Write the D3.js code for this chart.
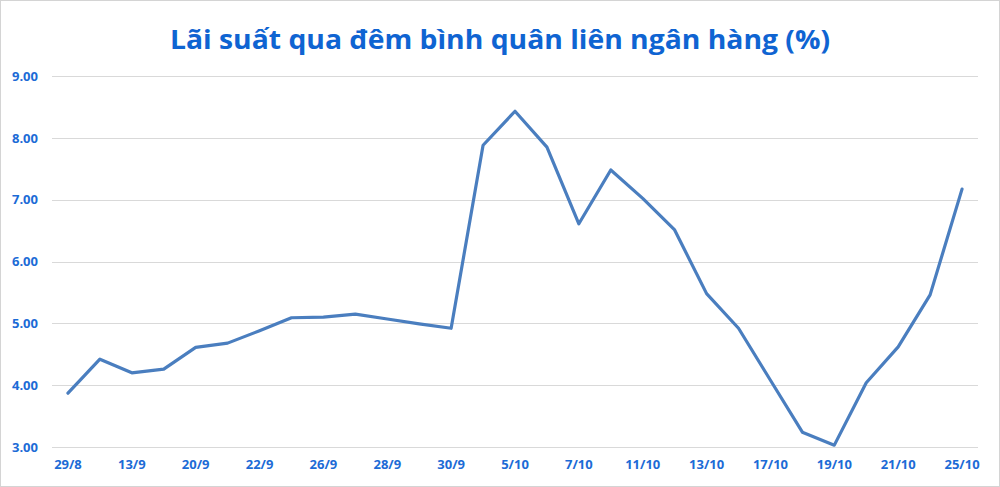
<!DOCTYPE html>
<html>
<head>
<meta charset="utf-8">
<script src="https://cdn.jsdelivr.net/npm/d3@7"></script>
<style>
  body { margin: 0; background: #fff; }
  svg { display: block; }
</style>
</head>
<body>
<script>
// dates (every other one is shown on the axis)
var dates = ["29/8", "12/9", "13/9", "16/9", "20/9", "21/9", "22/9", "23/9", "26/9", "27/9",
             "28/9", "29/9", "30/9", "4/10", "5/10", "6/10", "7/10", "10/10", "11/10", "12/10",
             "13/10", "14/10", "17/10", "18/10", "19/10", "20/10", "21/10", "24/10", "25/10"];
var rates = [3.87, 4.42, 4.20, 4.26, 4.61, 4.68, 4.88, 5.09, 5.10, 5.15,
             5.07, 4.99, 4.92, 7.88, 8.43, 7.85, 6.61, 7.48, 7.02, 6.51,
             5.48, 4.92, 4.08, 3.24, 3.03, 4.04, 4.62, 5.46, 7.17];
var xTickLabels = ["29/8", "13/9", "20/9", "22/9", "26/9", "28/9", "30/9", "5/10",
                   "7/10", "11/10", "13/10", "17/10", "19/10", "21/10", "25/10"];
var yTicks = [3, 4, 5, 6, 7, 8, 9];

var W = 1000, H = 487;
var blue = "#1c6bd6";

var svg = d3.select("body").append("svg")
    .attr("width", W)
    .attr("height", H);

// frame
svg.append("rect")
    .attr("x", 0.5).attr("y", 0.5)
    .attr("width", W - 1).attr("height", H - 1)
    .attr("fill", "#fff")
    .attr("stroke", "#d4d4d4");

// title
svg.append("text")
    .attr("x", 500)
    .attr("y", 49)
    .attr("text-anchor", "middle")
    .style("font-family", "'Open Sans', 'Noto Sans', sans-serif")
    .style("font-weight", "bold")
    .style("font-size", "27px")
    .attr("fill", "#0f64d2")
    .attr("textLength", 660)
    .attr("lengthAdjust", "spacingAndGlyphs")
    .text("Lãi suất qua đêm bình quân liên ngân hàng (%)");

// scales
var x = d3.scaleBand().domain(dates).range([52, 978]).padding(0);
var y = d3.scaleLinear().domain([3, 9]).range([447, 76]);

// gridlines
svg.append("g")
    .selectAll("line")
    .data(yTicks)
    .enter().append("line")
    .attr("x1", 52).attr("x2", 978)
    .attr("y1", function(d) { return Math.round(y(d)) + 0.5; })
    .attr("y2", function(d) { return Math.round(y(d)) + 0.5; })
    .attr("stroke", "#d9d9d9")
    .attr("stroke-width", 1);

// y axis labels
var yAxis = d3.axisLeft(y).tickValues(yTicks).tickFormat(d3.format(".2f")).tickSize(0).tickPadding(0);
var gy = svg.append("g")
    .attr("transform", "translate(38,0)")
    .call(yAxis);
gy.select(".domain").remove();
gy.selectAll("text")
    .attr("fill", blue)
    .style("font-family", "'Open Sans', 'Noto Sans', sans-serif")
    .style("font-weight", "bold")
    .style("font-size", "13px");

// x axis labels
var xAxis = d3.axisBottom(x).tickValues(xTickLabels).tickSize(0).tickPadding(0);
var gx = svg.append("g")
    .attr("transform", "translate(0,460)")
    .call(xAxis);
gx.select(".domain").remove();
gx.selectAll("text")
    .attr("fill", blue)
    .style("font-family", "'Open Sans', 'Noto Sans', sans-serif")
    .style("font-weight", "bold")
    .style("font-size", "13px");

// line
var line = d3.line()
    .x(function(d, i) { return x(dates[i]) + x.bandwidth() / 2; })
    .y(function(d) { return y(d); });

svg.append("path")
    .datum(rates)
    .attr("d", line)
    .attr("fill", "none")
    .attr("stroke", "#4a7ebf")
    .attr("stroke-width", 3.2)
    .attr("stroke-linejoin", "round")
    .attr("stroke-linecap", "round");
</script>
</body>
</html>
